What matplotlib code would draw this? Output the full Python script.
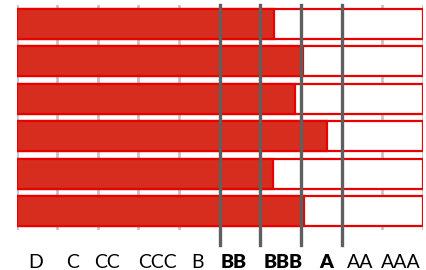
import matplotlib
matplotlib.use("Agg")
import matplotlib.pyplot as plt

# Data
ratings = ["D", "C", "CC", "CCC", "B", "BB", "BBB", "A", "AA", "AAA"]
bold_ratings = ["BB", "BBB", "A"]
scores = [6.34, 7.06, 6.86, 7.63, 6.30, 7.08]
threshold_lines = [5, 6, 7, 8]
full_scale = 10

# layout: label offsets from each category's centre (in axis units)
label_shift = [-0.02, -0.13, -0.27, -0.04, -0.04, -0.17, 0.06, 0.11, -0.05, -0.04]

fill_color = "#D62D1E"
edge_color = "#E80000"

fig = plt.figure(figsize=(4.26, 2.70), dpi=100)
ax = fig.add_axes([16.5 / 426, 1 - 230 / 270, (423 - 16.5) / 426, 225 / 270])

n = len(scores)
ypos = list(range(n))

# light gridlines
for g in range(full_scale + 1):
    ax.axvline(g, color="#C4C4C4", lw=2.0, zorder=0)

# full outline bars
ax.barh(ypos, [full_scale] * n, height=0.79, color="white",
        edgecolor=edge_color, linewidth=1.6, zorder=1)
# filled bars
ax.barh(ypos, scores, height=0.79, color=fill_color,
        edgecolor=edge_color, linewidth=1.6, zorder=2)

# dark threshold lines
for t in threshold_lines:
    ax.axvline(t, ymin=-0.067, ymax=1.0, color="#5F5F5F", lw=2.4,
               zorder=3, clip_on=False)

ax.set_xlim(0, full_scale)
ax.set_ylim(n - 0.5, -0.5)
ax.set_yticks([])
ax.set_xticks([i + 0.5 + s for i, s in enumerate(label_shift)])
ax.set_xticklabels(ratings, fontsize=14, family="Lato")
for lbl in ax.get_xticklabels():
    if lbl.get_text() in bold_ratings:
        lbl.set_fontweight("heavy")
ax.tick_params(axis="x", length=0, pad=17)
for s in ax.spines.values():
    s.set_visible(False)

fig.savefig("out.png", dpi=100, facecolor="white")
